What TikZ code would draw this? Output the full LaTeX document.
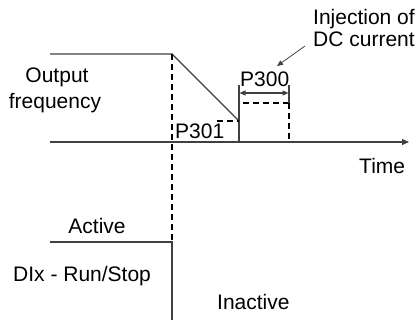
\documentclass[tikz,border=0pt]{standalone}
\usepackage{fontspec}
\setmainfont{Liberation Sans}
\usetikzlibrary{arrows.meta}
\begin{document}
\begin{tikzpicture}[x=1pt,y=-1pt,
  ln/.style={line width=1.1pt,draw=black!75},
  dsh/.style={line width=1.1pt,draw=black,dash pattern=on 6pt off 4pt},
  lbl/.style={anchor=base west,inner sep=0pt,font=\fontsize{21}{24}\selectfont},
  tip/.style={-{Triangle[length=7pt,width=6pt]}}]
\useasboundingbox (0,0) rectangle (419,320);
% coordinates
\coordinate (f0) at (50,54);
\coordinate (f1) at (172,54);
\coordinate (f2) at (239,121);
\coordinate (f3) at (239,142);
\coordinate (ax0) at (50,142);
\coordinate (ax1) at (409,142);
\coordinate (d1) at (172,242);
\coordinate (d0) at (50,242);
\coordinate (d2) at (172,320);
% output frequency
\draw[ln] (f0) -- (f1) -- (f2);
\draw[ln] (239,85) -- (f3);
\draw[ln,tip] (ax0) -- (ax1);
% dashed
\draw[dsh] (f1) -- (d1);
\draw[dsh] (217,121) -- (f2);
\draw[dsh] (243,103) -- (289,103);
\draw[ln] (289,85) -- (289,103);
\draw[dsh] (289,103) -- (289,142);
% P300 dimension
\draw[ln,{Triangle[length=6pt,width=5pt]}-{Triangle[length=6pt,width=5pt]}] (239.5,93) -- (288.5,93);
% DI line
\draw[ln] (d0) -- (d1) -- (d2);
% pointer
\coordinate (pt0) at (305,46);
\coordinate (pt1) at (277,66);
\draw[line width=0.8pt,draw=black!75,-{Triangle[length=6pt,width=5pt]}] (pt0) -- (pt1);
% labels
\node[lbl] (inj) at (313,25) {Injection of};
\node[lbl] (dc) at (313,47) {DC current};
\node[lbl] (p300) at (240,87) {P300};
\node[lbl] (p301) at (175,139) {P301};
\node[lbl,anchor=base] (out) at (57,83) {Output};
\node[lbl,anchor=base] (freq) at (55,109) {frequency};
\node[lbl] (time) at (359,173) {Time};
\node[lbl,anchor=base] (act) at (97,233) {Active};
\node[lbl] (dix) at (13,281) {DIx - Run/Stop};
\node[lbl] (inact) at (217,309) {Inactive};
\end{tikzpicture}
\end{document}
